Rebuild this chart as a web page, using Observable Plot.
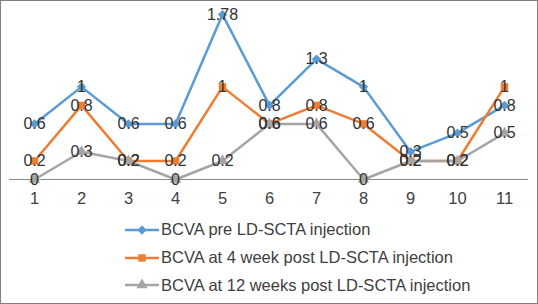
<!DOCTYPE html>
<html><head><meta charset="utf-8">
<script src="https://cdn.jsdelivr.net/npm/d3@7"></script>
<script src="https://cdn.jsdelivr.net/npm/@observablehq/plot@0.6"></script>
<style>
body{margin:0;background:#fff;}
#chart{width:538px;height:304px;box-sizing:border-box;border:1px solid #7f7f7f;position:relative;overflow:hidden;font-family:"Liberation Sans",Arial,sans-serif;background:#fff;}
#plot{position:absolute;left:0;top:0;}
#legend{position:absolute;left:123px;top:215px;}
.row{display:flex;align-items:center;height:27.8px;font-size:16.5px;color:#404040;white-space:nowrap;}
.row svg{margin-right:2px;}
</style></head><body>
<div id="chart"><div id="plot"></div><div id="legend"></div></div>
<script>
const patients = [1, 2, 3, 4, 5, 6, 7, 8, 9, 10, 11];
const bcvaPre = [0.6, 1, 0.6, 0.6, 1.78, 0.8, 1.3, 1, 0.3, 0.5, 0.8];
const bcva4wk = [0.2, 0.8, 0.2, 0.2, 1, 0.6, 0.8, 0.6, 0.2, 0.2, 1];
const bcva12wk = [0, 0.3, 0.2, 0, 0.2, 0.6, 0.6, 0, 0.2, 0.2, 0.5];
const seriesNames = ["BCVA pre LD-SCTA injection", "BCVA at 4 week post LD-SCTA injection", "BCVA at 12 weeks post LD-SCTA injection"];
const seriesColors = ["#5B9BD5", "#ED7D31", "#A5A5A5"];
const seriesSymbols = ["diamond2", "square", "triangle"];
const seriesValues = [bcvaPre, bcva4wk, bcva12wk];

const data = [];
seriesValues.forEach((vals, si) => {
  vals.forEach((v, i) => data.push({patient: patients[i], value: v, series: seriesNames[si]}));
});

const marks = [Plot.ruleY([0], {stroke: "#898989", strokeWidth: 1})];
seriesNames.forEach((name, si) => {
  const d = data.filter(r => r.series === name);
  marks.push(Plot.line(d, {x: "patient", y: "value", stroke: seriesColors[si], strokeWidth: 2.5}));
  marks.push(Plot.dot(d, {x: "patient", y: "value", symbol: () => seriesSymbols[si], fill: seriesColors[si], stroke: "none", r: 4.2}));
});
marks.push(Plot.text(data, {x: "patient", y: "value", text: d => String(d.value), fill: "#333", fontSize: 16, fontFamily: "Liberation Sans, Arial, sans-serif", textAnchor: "middle", lineAnchor: "middle"}));
marks.push(Plot.axisX({tickSize: 0, tickPadding: 13, fontSize: 16.5, fill: "#404040", fontFamily: "Liberation Sans, Arial, sans-serif", label: null}));

const chart = Plot.plot({
  width: 536,
  height: 200,
  marginLeft: 8,
  marginRight: 9,
  marginTop: 2,
  marginBottom: 22,
  style: {fontFamily: "Liberation Sans, Arial, sans-serif", background: "transparent", overflow: "visible"},
  x: {type: "point", domain: patients, padding: 0.5},
  y: {domain: [0, 1.9], axis: null},
  symbol: {type: "identity"},
  marks
});
document.getElementById("plot").appendChild(chart);

const legend = document.getElementById("legend");
seriesNames.forEach((name, si) => {
  const row = document.createElement("div");
  row.className = "row";
  const sym = d3.symbol().type(si === 0 ? d3.symbolDiamond2 : si === 1 ? d3.symbolSquare : d3.symbolTriangle).size(55)();
  row.innerHTML = `<svg width="35" height="12"><line x1="1" x2="35" y1="6" y2="6" stroke="${seriesColors[si]}" stroke-width="2.5"/><path d="${sym}" transform="translate(18,6)" fill="${seriesColors[si]}"/></svg><span>${name}</span>`;
  legend.appendChild(row);
});
</script>
</body></html>
